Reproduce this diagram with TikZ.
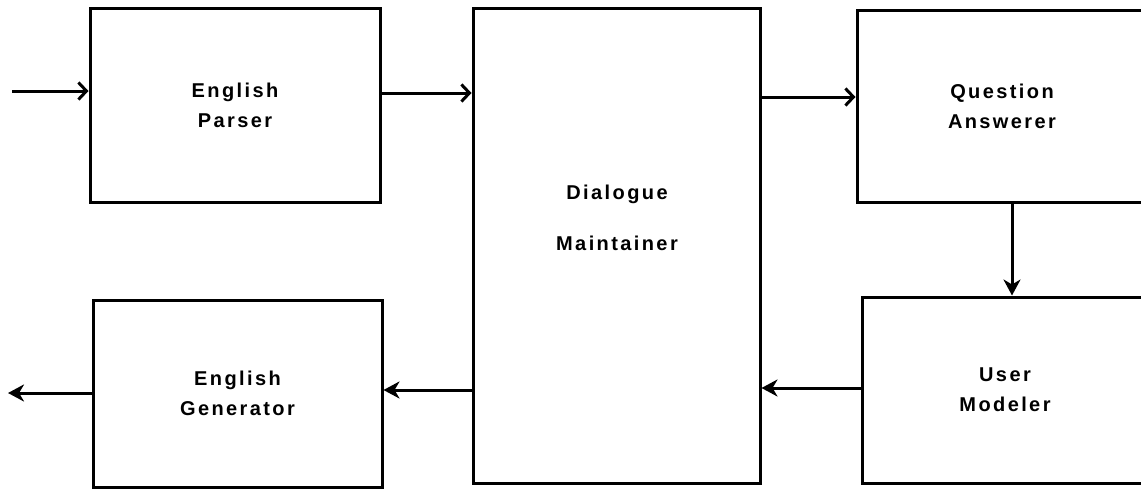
\documentclass[tikz,border=0pt]{standalone}
\usepackage{fontspec}
\setmainfont{Liberation Sans}[LetterSpace=12]
\usetikzlibrary{arrows.meta}
\begin{document}
\begin{tikzpicture}[x=1pt,y=-1pt,
  box/.style={draw=black,line width=3pt,rectangle,inner sep=0pt,align=center,
    font=\fontsize{20}{30}\selectfont\bfseries},
  lbl/.style={inner sep=0pt,align=center,font=\fontsize{20}{51}\selectfont\bfseries},
  conn/.style={line width=3pt},
  barb/.style={conn,-{Straight Barb[length=8pt,width=17pt,line width=3pt]}},
  solid tip/.style={conn,-{Stealth[length=16pt,width=17pt,inset=5pt]}}]
\useasboundingbox (0,0) rectangle (1141,490);
\clip (0,0) rectangle (1141,490);
\node[box,minimum width=290pt,minimum height=194pt] (parser) at (235,105) {English\\Parser};
\node[box,minimum width=287pt,minimum height=475pt] (dm) at (616.5,245.5) {};
\node[lbl] (dmtext) at (617,218) {Dialogue\\Maintainer};
\node[box,minimum width=290pt,minimum height=192pt] (qa) at (1002,106) {Question\\Answerer};
\node[box,minimum width=289pt,minimum height=187pt] (gen) at (237.5,393.5) {English\\Generator};
\node[box,minimum width=286pt,minimum height=186pt] (um) at (1005,390) {User\\Modeler};
\coordinate (in) at (12,91);
\coordinate (out) at (8,393);
\draw[barb] (in) -- (in -| parser.west);
\draw[barb] (parser.east |- 0,93) -- (dm.west |- 0,93);
\draw[barb] (dm.east |- 0,97) -- (qa.west |- 0,97);
\draw[solid tip] (qa.south -| 1012,0) -- (um.north -| 1012,0);
\draw[solid tip] (um.west |- 0,388) -- (dm.east |- 0,388);
\draw[solid tip] (dm.west |- 0,390) -- (gen.east |- 0,390);
\draw[solid tip] (gen.west |- out) -- (out);
\end{tikzpicture}
\end{document}
